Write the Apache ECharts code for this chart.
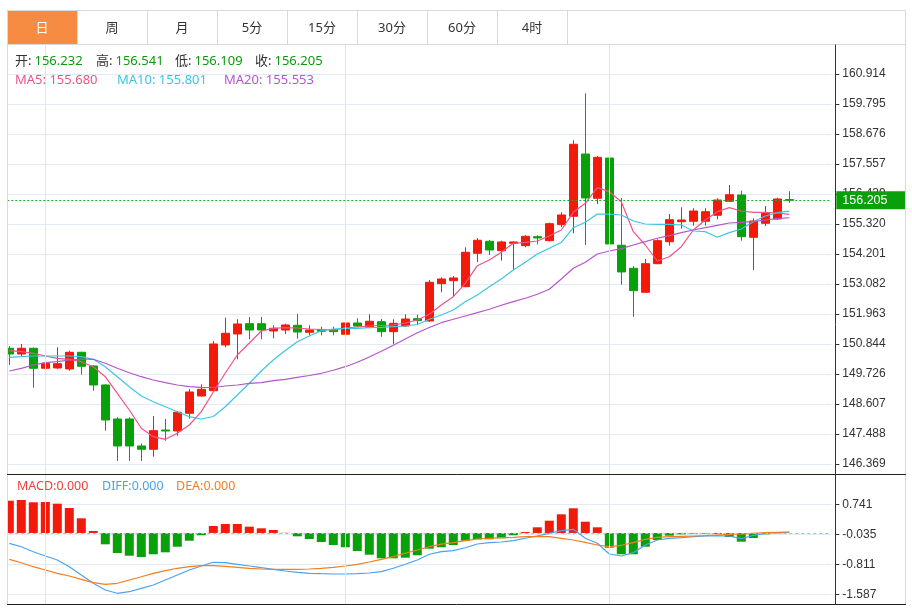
<!DOCTYPE html>
<html><head><meta charset="utf-8">
<script src="https://cdn.jsdelivr.net/npm/echarts@6/dist/echarts.min.js"></script>
<style>html,body{margin:0;padding:0;background:#fff}#c{width:912px;height:608px}</style>
</head><body><div id="c"></div>
<script>
// ---------- data ----------
const tabs = ['日','周','月','5分','15分','30分','60分','4时'];
const categories = ['1','2','3','4','5','6','7','8','9','10','11','12','13','14','15','16','17','18','19','20',
'21','22','23','24','25','26','27','28','29','30','31','32','33','34','35','36','37','38','39','40',
'41','42','43','44','45','46','47','48','49','50','51','52','53','54','55','56','57','58','59','60',
'61','62','63','64','65','66','','',''];
const monthStartIdx = [3, 28, 50];

const candleOpen = [150.685,150.472,150.685,149.939,149.950,149.913,150.535,150.024,149.316,148.048,
148.048,147.042,146.919,147.637,147.601,148.260,148.906,149.103,150.808,151.218,
151.602,151.602,151.330,151.367,151.542,151.281,151.378,151.367,151.207,151.628,
151.468,151.677,151.304,151.516,151.789,151.703,153.094,153.206,152.982,154.228,
154.675,154.325,154.601,154.511,154.847,154.698,155.295,155.608,157.930,156.279,
157.781,154.527,153.668,152.773,153.840,154.660,155.406,155.421,155.421,155.645,
156.167,156.402,154.824,155.346,155.507,156.232];
const candleClose = [150.472,150.685,149.939,150.125,150.110,150.535,150.013,149.316,148.011,147.042,
147.042,146.919,147.612,147.600,148.298,149.055,149.156,150.845,151.244,151.591,
151.367,151.367,151.431,151.554,151.293,151.367,151.318,151.304,151.628,151.516,
151.692,151.304,151.617,151.777,151.722,153.146,153.270,153.307,154.265,154.713,
154.351,154.650,154.650,154.862,154.799,155.332,155.657,158.293,156.290,157.807,
154.576,153.531,152.833,153.840,154.698,155.481,155.469,155.805,155.779,156.215,
156.413,154.847,155.432,155.719,156.253,156.205];
const candleLow = [150.062,150.371,149.215,149.913,149.913,149.850,149.700,149.103,147.612,146.483,
146.483,146.483,146.642,147.239,147.425,148.058,148.880,149.091,150.722,150.274,
151.020,151.020,151.058,151.218,151.043,151.170,151.170,151.170,151.181,151.468,
151.431,151.117,150.845,151.490,151.554,151.677,152.773,152.609,152.960,153.903,
154.165,153.952,153.605,154.452,154.560,154.675,155.209,154.973,154.537,156.066,
153.010,153.055,151.863,152.758,153.818,154.511,155.145,155.257,155.257,155.496,
156.141,154.698,153.605,155.246,155.470,156.109];
const candleHigh = [150.770,150.845,150.715,150.722,150.722,150.595,150.558,150.062,149.342,148.111,
148.111,147.131,148.160,148.048,148.347,149.167,149.342,150.957,151.826,151.766,
151.852,151.852,151.542,151.602,151.964,151.542,151.490,151.490,151.777,151.803,
151.953,151.777,151.766,151.953,151.938,153.232,153.333,153.381,154.451,154.799,
154.724,154.698,154.675,154.899,154.899,155.369,155.757,158.442,160.194,157.856,
157.930,156.290,153.754,154.015,154.750,155.693,155.943,155.906,155.906,156.279,
156.775,156.562,155.533,155.991,156.301,156.541];

const ma5 = [150.595,150.557,150.498,150.397,150.311,150.274,150.184,149.998,149.625,149.006,
148.383,147.701,147.387,147.290,147.514,147.824,148.320,149.054,149.763,150.434,
150.882,151.329,151.430,151.453,151.441,151.404,151.385,151.367,151.441,151.479,
151.516,151.535,151.553,151.628,151.740,151.952,152.299,152.609,153.108,153.765,
153.977,154.264,154.600,154.637,154.686,154.872,155.096,155.756,156.092,156.674,
156.525,156.152,155.033,154.537,153.940,154.100,154.473,155.096,155.469,155.779,
155.928,155.805,155.756,155.756,155.730,155.680];
const ma10 = [150.348,150.371,150.397,150.397,150.397,150.397,150.371,150.274,149.998,149.625,
149.252,148.905,148.693,148.506,148.320,148.133,148.047,148.141,148.506,148.942,
149.379,149.838,150.248,150.602,150.930,151.143,151.341,151.404,151.430,151.430,
151.453,151.467,151.490,151.516,151.572,151.766,151.926,152.113,152.422,152.672,
152.982,153.269,153.604,153.892,154.201,154.414,154.637,155.182,155.383,155.693,
155.685,155.656,155.432,155.320,155.309,155.309,155.283,155.059,155.033,154.824,
154.996,155.133,155.406,155.618,155.741,155.801];
const ma20 = [149.838,149.938,150.061,150.147,150.184,150.248,150.285,150.274,150.125,149.938,
149.774,149.625,149.502,149.401,149.315,149.252,149.230,149.222,149.278,149.315,
149.379,149.401,149.476,149.528,149.603,149.670,149.752,149.864,149.998,150.162,
150.360,150.572,150.796,151.031,151.266,151.460,151.639,151.766,151.889,152.012,
152.139,152.288,152.422,152.549,152.698,152.885,153.269,153.668,153.892,154.201,
154.313,154.399,154.537,154.660,154.787,154.884,154.996,155.096,155.182,155.271,
155.357,155.383,155.406,155.469,155.518,155.553];

const macdHist = [0.834,0.852,0.793,0.801,0.757,0.645,0.379,0.050,-0.294,-0.519,
-0.589,-0.622,-0.552,-0.501,-0.356,-0.201,-0.061,0.180,0.231,0.231,
0.162,0.120,0.076,0.005,-0.087,-0.157,-0.234,-0.312,-0.371,-0.467,
-0.563,-0.656,-0.656,-0.640,-0.578,-0.407,-0.371,-0.312,-0.201,-0.164,
-0.164,-0.138,-0.061,0.024,0.146,0.317,0.482,0.638,0.291,0.146,
-0.382,-0.552,-0.552,-0.356,-0.182,-0.071,-0.035,-0.019,-0.019,-0.027,
-0.105,-0.226,-0.131,-0.035,-0.010,0.000];
const diffLine = [-0.268,-0.356,-0.485,-0.596,-0.700,-0.873,-1.088,-1.302,-1.476,-1.561,
-1.520,-1.432,-1.346,-1.217,-1.088,-0.958,-0.855,-0.759,-0.770,-0.811,
-0.855,-0.899,-0.940,-0.984,-1.018,-1.044,-1.054,-1.062,-1.062,-1.054,
-1.036,-1.002,-0.914,-0.811,-0.700,-0.552,-0.485,-0.459,-0.382,-0.286,
-0.252,-0.234,-0.200,-0.138,-0.079,-0.009,0.058,0.094,-0.138,-0.268,
-0.545,-0.596,-0.511,-0.312,-0.182,-0.138,-0.123,-0.097,-0.079,-0.071,
-0.079,-0.149,-0.061,-0.009,0.006,0.017];
const deaLine = [-0.682,-0.770,-0.873,-0.958,-1.044,-1.114,-1.199,-1.287,-1.328,-1.302,
-1.217,-1.132,-1.044,-0.976,-0.914,-0.873,-0.847,-0.847,-0.863,-0.889,
-0.914,-0.933,-0.940,-0.940,-0.940,-0.933,-0.914,-0.889,-0.855,-0.811,
-0.751,-0.682,-0.614,-0.526,-0.441,-0.356,-0.291,-0.252,-0.200,-0.156,
-0.138,-0.123,-0.113,-0.097,-0.087,-0.097,-0.138,-0.182,-0.242,-0.312,
-0.356,-0.319,-0.252,-0.164,-0.113,-0.097,-0.087,-0.079,-0.071,-0.053,
-0.035,-0.027,-0.009,0.006,0.017,0.025];

const priceTickLabels = ['146.369','147.488','148.607','149.726','150.844','151.963','153.082',
'154.201','155.320','156.439','157.557','158.676','159.795','160.914'];
const priceMin = 146.369, priceStep = (160.914 - 146.369) / 13, priceSteps = 14;
const macdTickLabels = ['-1.587','-0.811','-0.035','0.741'];
const macdMin = -1.587, macdStep = 0.776, macdSteps = 4;

const lastQuote = {open:'156.232', high:'156.541', low:'156.109', close:'156.205', closeValue:156.205};
const lastMA = {ma5:'155.680', ma10:'155.801', ma20:'155.553'};
const lastMACD = {macd:'0.000', diff:'0.000', dea:'0.000'};

// ---------- style ----------
const UP = '#f21a0a', DOWN = '#09a109';
const C_MA5 = '#ef5488', C_MA10 = '#3cc6e2', C_MA20 = '#b655cc';
const C_MACD = '#ef4040', C_DIFF = '#4aa3f0', C_DEA = '#f57d1f';
const GRID_COLOR = '#e3eaf1', FRAME = '#d9d9d9';
const FONT_CN = '"Noto Sans", "Noto Sans CJK SC", sans-serif';
const FONT_AX = '"Liberation Sans", Arial, sans-serif';

const candleData = candleOpen.map((o, i) => [o, candleClose[i], candleLow[i], candleHigh[i]]);

function tickFmt(labels) {
  return function (v) {
    const k = Math.round(v);
    return (Math.abs(v - k) < 1e-6 && labels[k] !== undefined) ? labels[k] : '';
  };
}

const chart = echarts.init(document.getElementById('c'), null, {renderer: 'canvas'});

const gl = 3.3, gw = 828;
const labelAxis = (gridIndex, steps, labels) => ({
  type: 'value', gridIndex, position: 'right', offset: 4,
  min: 0, max: steps, interval: 1,
  axisLine: {show: false},
  axisTick: {show: true, length: 4, lineStyle: {color: '#333'}},
  axisLabel: {color: '#333', fontSize: 12, fontFamily: FONT_AX, margin: 7, formatter: tickFmt(labels)},
  splitLine: {show: true, lineStyle: {color: GRID_COLOR, width: 1}}
});

// graphic: frame, tabs, legends
const graphics = [];
graphics.push({type: 'rect', z: 40, silent: true, shape: {x: 0, y: 44, width: 7, height: 564}, style: {fill: '#fff'}});
graphics.push({type: 'rect', z: 41, silent: true, shape: {x: 7.5, y: 10.5, width: 69.5, height: 34}, style: {fill: '#f58c41'}});
const hLine = (x1, x2, y, c) => ({type: 'line', z: 45, silent: true, shape: {x1, y1: y, x2, y2: y}, style: {stroke: c, lineWidth: 1}});
const vLine = (x, y1, y2, c) => ({type: 'line', z: 45, silent: true, shape: {x1: x, y1, x2: x, y2}, style: {stroke: c, lineWidth: 1}});
graphics.push(hLine(7, 906, 10.5, FRAME));
graphics.push(hLine(7, 906, 44.5, FRAME));
graphics.push(vLine(7.5, 10, 605, FRAME));
graphics.push(vLine(905.5, 10, 605, FRAME));
tabs.forEach((t, i) => {
  if (i > 0) graphics.push(vLine(7.5 + 70 * i, 10.5, 44.5, FRAME));
  graphics.push({type: 'text', z: 46, silent: true, x: 42 + 70 * i, y: 28,
    style: {text: t, fill: i === 0 ? '#fff' : '#333', font: '13px ' + FONT_CN, textAlign: 'center', textVerticalAlign: 'middle'}});
});
graphics.push(vLine(7.5 + 70 * tabs.length, 10.5, 44.5, FRAME));
graphics.push(hLine(7, 906, 474.5, '#222'));
graphics.push(hLine(7, 906, 604.5, '#222'));
graphics.push(vLine(835.5, 44.5, 604.5, '#333'));

const txt = (x, y, text, fill, size) => ({type: 'text', z: 46, silent: true, x, y,
  style: {text, fill, font: (size || 13) + 'px ' + FONT_CN, textAlign: 'left', textVerticalAlign: 'middle'}});
const GREEN_TXT = '#0c9c0c';
[['开:', lastQuote.open, 15], ['高:', lastQuote.high, 96], ['低:', lastQuote.low, 175], ['收:', lastQuote.close, 255]]
  .forEach(([l, v, x]) => { graphics.push(txt(x, 61.5, l, '#333')); graphics.push(txt(x + 19.5, 61.5, v, GREEN_TXT)); });
graphics.push(txt(15, 80, 'MA5: ' + lastMA.ma5, C_MA5));
graphics.push(txt(117, 80, 'MA10: ' + lastMA.ma10, C_MA10));
graphics.push(txt(224, 80, 'MA20: ' + lastMA.ma20, C_MA20));
graphics.push(txt(17, 486, 'MACD:' + lastMACD.macd, C_MACD, 12.5));
graphics.push(txt(102, 486, 'DIFF:' + lastMACD.diff, C_DIFF, 12.5));
graphics.push(txt(176, 486, 'DEA:' + lastMACD.dea, C_DEA, 12.5));

const maLine = (name, data, color) => ({
  name, type: 'line', xAxisIndex: 0, yAxisIndex: 0, data, showSymbol: false, symbol: 'none',
  smooth: false, lineStyle: {color, width: 1.2}, itemStyle: {color}, z: 3, silent: true
});

const option = {
  animation: false,
  backgroundColor: '#fff',
  grid: [
    {left: gl, width: gw, top: 44, height: 420},
    {left: gl, width: gw, top: 474.3, height: 120},
    {left: gl, width: gw, top: 45, height: 559}
  ],
  xAxis: [0, 1, 2].map(g => ({type: 'category', gridIndex: g, data: categories, boundaryGap: true, show: false})),
  yAxis: [
    {type: 'value', gridIndex: 0, min: priceMin, max: priceMin + priceStep * priceSteps, show: false},
    labelAxis(0, priceSteps, priceTickLabels),
    {type: 'value', gridIndex: 1, min: macdMin, max: macdMin + macdStep * macdSteps, show: false},
    labelAxis(1, macdSteps, macdTickLabels),
    {type: 'value', gridIndex: 2, min: 0, max: 1, show: false}
  ],
  series: [
    {
      type: 'line', xAxisIndex: 2, yAxisIndex: 4, data: [], z: 1, silent: true,
      markLine: {silent: true, symbol: ['none', 'none'], label: {show: false},
        lineStyle: {color: '#dde5ee', type: 'solid', width: 1},
        data: monthStartIdx.map(i => ({xAxis: i}))}
    },
    {
      type: 'candlestick', xAxisIndex: 0, yAxisIndex: 0, data: candleData, barWidth: 9, z: 2,
      itemStyle: {color: UP, color0: DOWN, borderColor: UP, borderColor0: DOWN, borderWidth: 1},
      markLine: {
        silent: true, symbol: ['none', 'none'], z: 5,
        lineStyle: {color: '#22a822', type: [2, 2], width: 1},
        label: {show: true, position: 'end', distance: 5, formatter: () => lastQuote.close,
          backgroundColor: '#0aa00a', color: '#fff', fontSize: 12.5, fontFamily: FONT_AX,
          padding: [2, 18, 2, 6], lineHeight: 14},
        data: [{yAxis: lastQuote.closeValue}]
      }
    },
    maLine('MA5', ma5, C_MA5),
    maLine('MA10', ma10, C_MA10),
    maLine('MA20', ma20, C_MA20),
    {
      type: 'bar', xAxisIndex: 1, yAxisIndex: 2, data: macdHist, barWidth: 9, z: 2, silent: true,
      itemStyle: {color: p => p.value >= 0 ? UP : DOWN},
      markLine: {silent: true, symbol: ['none', 'none'], label: {show: false},
        lineStyle: {color: '#86cbe9', type: [3, 3], width: 1},
        data: [{yAxis: 0}]}
    },
    {type: 'line', xAxisIndex: 1, yAxisIndex: 2, data: diffLine, showSymbol: false, symbol: 'none',
      lineStyle: {color: C_DIFF, width: 1.2}, z: 3, silent: true},
    {type: 'line', xAxisIndex: 1, yAxisIndex: 2, data: deaLine, showSymbol: false, symbol: 'none',
      lineStyle: {color: C_DEA, width: 1.2}, z: 3, silent: true}
  ],
  graphic: graphics
};
chart.setOption(option);
</script></body></html>
